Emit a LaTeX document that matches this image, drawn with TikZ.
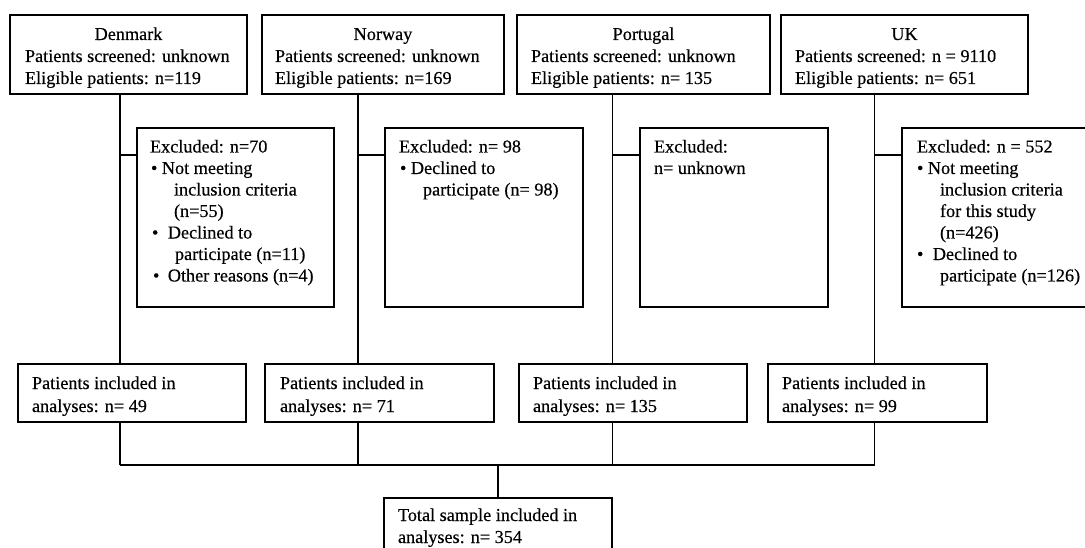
\documentclass[tikz,border=0pt]{standalone}
\usepackage{fontspec}
\setmainfont[FakeBold=0.4]{Liberation Serif}
\usetikzlibrary{fit}
\tikzset{
  box/.style={draw, line width=1.5pt, inner sep=0pt, outer sep=0pt, rectangle},
  conn/.style={draw, line width=1.4pt},
  txt/.style={inner sep=0pt, outer sep=0pt, font=\fontsize{18.2}{21.5}\selectfont, anchor=base west},
  ttl/.style={txt, anchor=base}
}
\begin{document}
\begin{tikzpicture}[x=1pt,y=-1pt]
\useasboundingbox (0,0) rectangle (1085,548);
\clip (0,0) rectangle (1085,548);
\fill[white] (0,0) rectangle (1085,548);
% top boxes
\node[box, fit={(10,15)(247,94)}] (dk) {};
\node[box, fit={(262,15)(504,94)}] (no) {};
\node[box, fit={(517,15)(770,94)}] (pt) {};
\node[box, fit={(781,15)(1028,94)}] (uk) {};
% excluded boxes
\node[box, fit={(137,128)(334,307)}] (dkx) {};
\node[box, fit={(385,128)(583,307)}] (nox) {};
\node[box, fit={(640,128)(828,307)}] (ptx) {};
\node[box, fit={(902,128)(1100,307)}] (ukx) {};
% included boxes
\node[box, fit={(18,364)(246,422)}] (dki) {};
\node[box, fit={(265,364)(494,422)}] (noi) {};
\node[box, fit={(519,364)(747,422)}] (pti) {};
\node[box, fit={(768,364)(987,422)}] (uki) {};
% total
\node[box, fit={(384,498)(612,580)}] (tot) {};
% helper coordinates
\coordinate (dkv) at (120,0);
\coordinate (nov) at (358,0);
\coordinate (ptv) at (612.5,0);
\coordinate (ukv) at (874.5,0);
\coordinate (hy) at (0,155);
\coordinate (bar) at (0,465);
% connectors
\foreach \c/\t/\x/\i in {dkv/dk/dkx/dki, nov/no/nox/noi, ptv/pt/ptx/pti, ukv/uk/ukx/uki}{
  \draw[conn] (\c |- \t.south) -- (\c |- \i.north);
  \draw[conn] (\c |- hy) -- (hy -| \x.west);
  \draw[conn] (\c |- \i.south) -- (\c |- bar);
}
\draw[conn] (dkv |- bar) -- (ukv |- bar);
\draw[conn] (tot.north |- bar) -- (tot.north);
% top texts
\node[ttl] (dkt1) at (dk.center |- 0,40) {Denmark};
\node[txt] (dkt2) at (25,62) {Patients screened: unknown};
\node[txt] (dkt3) at (25,84) {Eligible patients: n=119};
\node[ttl] (not1) at (no.center |- 0,40) {Norway};
\node[txt] (not2) at (275,62) {Patients screened: unknown};
\node[txt] (not3) at (275,84) {Eligible patients: n=169};
\node[ttl] (ptt1) at (pt.center |- 0,40) {Portugal};
\node[txt] (ptt2) at (531,62) {Patients screened: unknown};
\node[txt] (ptt3) at (531,84) {Eligible patients: n= 135};
\node[ttl] (ukt1) at (uk.center |- 0,40) {UK};
\node[txt] (ukt2) at (795,62) {Patients screened: n = 9110};
\node[txt] (ukt3) at (795,84) {Eligible patients: n= 651};
% excluded texts
\node[txt] (dkx1) at (150,152.5) {Excluded: n=70};
\node[txt] (dkx2) at (151,174) {\textbullet\ Not meeting};
\node[txt] (dkx3) at (174,195.5) {inclusion criteria};
\node[txt] (dkx4) at (174,217) {(n=55)};
\node[txt] (dkx5) at (152,238.5) {\textbullet\hspace{9.5pt}Declined to};
\node[txt] (dkx6) at (175,260) {participate (n=11)};
\node[txt] (dkx7) at (153,281.5) {\textbullet\hspace{8.5pt}Other reasons (n=4)};
\node[txt] (nox1) at (399,152.5) {Excluded: n= 98};
\node[txt] (nox2) at (400,174) {\textbullet\ Declined to};
\node[txt] (nox3) at (423,195.5) {participate (n= 98)};
\node[txt] (ptx1) at (654,152.5) {Excluded:};
\node[txt] (ptx2) at (654,174) {n= unknown};
\node[txt] (ukx1) at (917,152.5) {Excluded: n = 552};
\node[txt] (ukx2) at (917,174) {\textbullet\ Not meeting};
\node[txt] (ukx3) at (940,195.5) {inclusion criteria};
\node[txt] (ukx4) at (940,217) {for this study};
\node[txt] (ukx5) at (940,238.5) {(n=426)};
\node[txt] (ukx6) at (917,260) {\textbullet\hspace{9.5pt}Declined to};
\node[txt] (ukx7) at (940,281.5) {participate (n=126)};
% included texts
\node[txt] (dki1) at (32,389) {Patients included in};
\node[txt] (dki2) at (32,412) {analyses: n= 49};
\node[txt] (noi1) at (280,389) {Patients included in};
\node[txt] (noi2) at (280,412) {analyses: n= 71};
\node[txt] (pti1) at (533,389) {Patients included in};
\node[txt] (pti2) at (533,412) {analyses: n= 135};
\node[txt] (uki1) at (782,389) {Patients included in};
\node[txt] (uki2) at (782,412) {analyses: n= 99};
% total texts
\node[txt] (tot1) at (398,521) {Total sample included in};
\node[txt] (tot2) at (398,543) {analyses: n= 354};
\end{tikzpicture}
\end{document}
